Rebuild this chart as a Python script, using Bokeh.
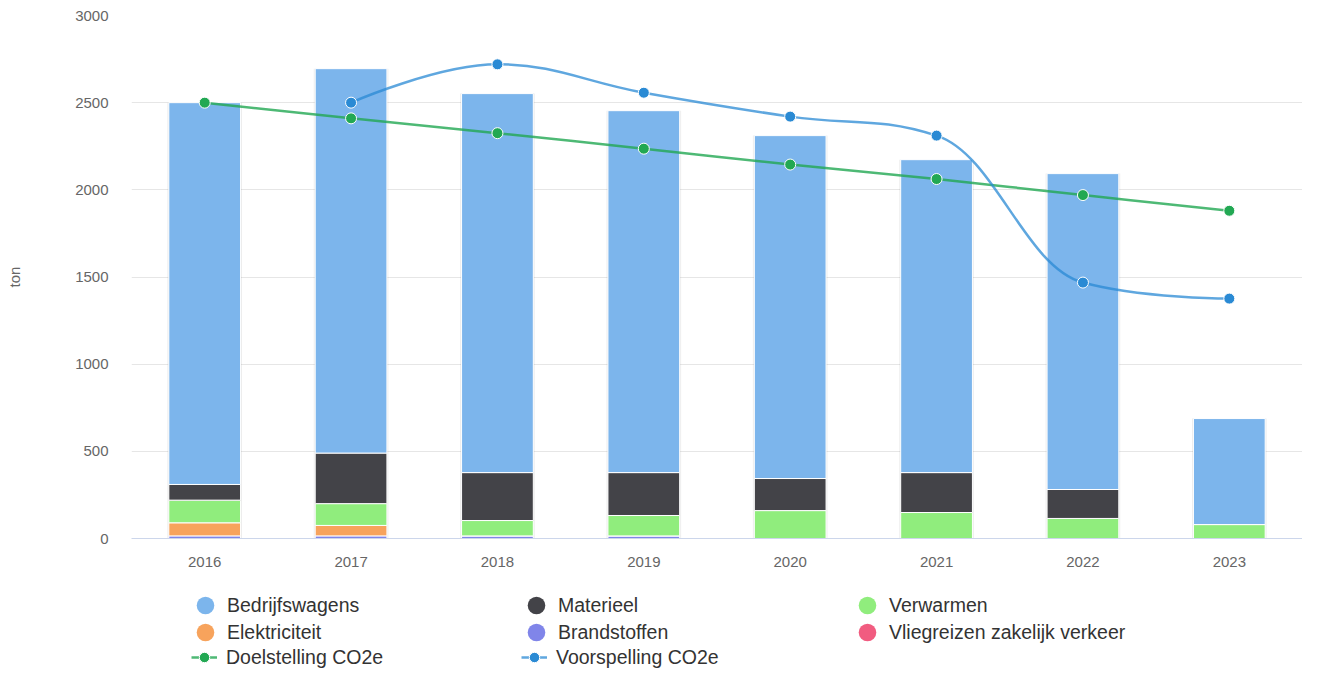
from bokeh.plotting import figure
from bokeh.layouts import column
from bokeh.models import ColumnDataSource, Range1d, FixedTicker, Legend, LegendItem
from bokeh.embed import file_html
from bokeh.resources import INLINE

# ---------------- data ----------------
years = ["2016", "2017", "2018", "2019", "2020", "2021", "2022", "2023"]
bedrijfswagens = [2190, 2205, 2174, 2076, 1967, 1795, 1812, 608]
materieel = [90, 290, 275, 246, 184, 229, 166, 0]
verwarmen = [130, 125, 88, 117, 160, 149, 115, 80]
elektriciteit = [75, 60, 0, 0, 0, 0, 0, 0]
brandstoffen = [15, 15, 15, 15, 0, 0, 0, 0]
vliegreizen = [0, 0, 0, 0, 0, 0, 0, 0]
doelstelling = [2500, 2410, 2325, 2236, 2145, 2062, 1970, 1880]
voorspelling = [None, 2500, 2720, 2557, 2420, 2311, 1468, 1376]

series_names = ["Bedrijfswagens", "Materieel", "Verwarmen", "Elektriciteit",
                "Brandstoffen", "Vliegreizen zakelijk verkeer"]
series_colors = ["#7cb5ec", "#434348", "#90ed7d", "#f7a35c", "#8085e9", "#f15c80"]
line_names = ["Doelstelling CO2e", "Voorspelling CO2e"]
doel_color = "#22a853"
voor_color = "#2a8ad4"

FONT = "Liberation Sans"
NAN = float("nan")

# ---------------- helpers ----------------
def spline_segments(xs, ys):
    """Highcharts-style spline: cubic bezier control points per segment."""
    n = len(xs)
    sm = 1.5
    den = sm + 1
    rc = [None] * n
    lc = [None] * n
    for i in range(1, n - 1):
        px, py = xs[i], ys[i]
        lx, ly = xs[i - 1], ys[i - 1]
        nx, ny = xs[i + 1], ys[i + 1]
        lcx = (sm * px + lx) / den
        lcy = (sm * py + ly) / den
        rcx = (sm * px + nx) / den
        rcy = (sm * py + ny) / den
        corr = 0
        if rcx != lcx:
            corr = (rcy - lcy) * (rcx - px) / (rcx - lcx) + py - rcy
        lcy += corr
        rcy += corr
        if lcy > ly and lcy > py:
            lcy = max(ly, py)
            rcy = 2 * py - lcy
        elif lcy < ly and lcy < py:
            lcy = min(ly, py)
            rcy = 2 * py - lcy
        if rcy > ny and rcy > py:
            rcy = max(ny, py)
            lcy = 2 * py - rcy
        elif rcy < ny and rcy < py:
            rcy = min(ny, py)
            lcy = 2 * py - rcy
        lc[i] = (lcx, lcy)
        rc[i] = (rcx, rcy)
    seg = dict(x0=[], y0=[], x1=[], y1=[], cx0=[], cy0=[], cx1=[], cy1=[])
    for i in range(1, n):
        c0 = rc[i - 1] if rc[i - 1] is not None else (xs[i - 1], ys[i - 1])
        c1 = lc[i] if lc[i] is not None else (xs[i], ys[i])
        seg["x0"].append(xs[i - 1]); seg["y0"].append(ys[i - 1])
        seg["x1"].append(xs[i]); seg["y1"].append(ys[i])
        seg["cx0"].append(c0[0]); seg["cy0"].append(c0[1])
        seg["cx1"].append(c1[0]); seg["cy1"].append(c1[1])
    return seg

# ---------------- main chart ----------------
idx = list(range(len(years)))
totals = [a + b + c + d + e + f for a, b, c, d, e, f in
          zip(bedrijfswagens, materieel, verwarmen, elektriciteit, brandstoffen, vliegreizen)]

src = ColumnDataSource(dict(
    x=idx, total=totals,
    bedrijfswagens=bedrijfswagens, materieel=materieel, verwarmen=verwarmen,
    elektriciteit=elektriciteit, brandstoffen=brandstoffen, vliegreizen=vliegreizen,
))

p = figure(width=1302, height=585,
           x_range=Range1d(-0.5, len(years) - 0.5), y_range=Range1d(0, 3000),
           output_backend="svg", toolbar_location=None,
           min_border_left=131, min_border_right=0, min_border_top=15, min_border_bottom=47)
p.outline_line_color = None
p.background_fill_color = "white"

# shadow behind stacks
p.vbar(x="x", top="total", width=0.51, source=src, fill_color="#000000",
       fill_alpha=0.07, line_color=None)

stack_keys = ["vliegreizen", "brandstoffen", "elektriciteit", "verwarmen", "materieel", "bedrijfswagens"]
stack_colors = [series_colors[5], series_colors[4], series_colors[3],
                series_colors[2], series_colors[1], series_colors[0]]
p.vbar_stack(stack_keys, x="x", width=0.49, color=stack_colors, source=src,
             line_color="white", line_width=1)

LINE_STYLE = dict(line_width=2.5)
d_seg = spline_segments(idx, doelstelling)
p.bezier(source=ColumnDataSource(d_seg), x0="x0", y0="y0", x1="x1", y1="y1",
         cx0="cx0", cy0="cy0", cx1="cx1", cy1="cy1",
         line_color=doel_color, line_alpha=0.8, **LINE_STYLE)
p.scatter(idx, doelstelling, size=11, marker="circle", fill_color=doel_color,
          line_color="white", line_width=1)

v_x = [i for i, v in zip(idx, voorspelling) if v is not None]
v_y = [v for v in voorspelling if v is not None]
v_seg = spline_segments(v_x, v_y)
p.bezier(source=ColumnDataSource(v_seg), x0="x0", y0="y0", x1="x1", y1="y1",
         cx0="cx0", cy0="cy0", cx1="cx1", cy1="cy1",
         line_color=voor_color, line_alpha=0.75, **LINE_STYLE)
p.scatter(v_x, v_y, size=11, marker="circle", fill_color=voor_color,
          line_color="white", line_width=1)

# axes
p.xaxis.ticker = FixedTicker(ticks=idx)
p.xaxis.major_label_overrides = {i: y for i, y in zip(idx, years)}
p.xaxis.axis_line_color = "#ccd6eb"
p.xaxis.major_tick_line_color = None
p.xaxis.minor_tick_line_color = None
p.xaxis.major_tick_out = 0
p.xaxis.major_tick_in = 0
p.xaxis.major_label_standoff = 18
p.xaxis.major_label_text_font = FONT
p.xaxis.major_label_text_font_size = "15px"
p.xaxis.major_label_text_color = "#666666"

p.yaxis.ticker = FixedTicker(ticks=[0, 500, 1000, 1500, 2000, 2500, 3000])
p.yaxis.axis_line_color = None
p.yaxis.major_tick_line_color = None
p.yaxis.minor_tick_line_color = None
p.yaxis.major_tick_out = 0
p.yaxis.major_tick_in = 0
p.yaxis.major_label_standoff = 23
p.yaxis.major_label_text_font = FONT
p.yaxis.major_label_text_font_size = "15px"
p.yaxis.major_label_text_color = "#666666"
p.yaxis.axis_label = "ton"
p.yaxis.axis_label_text_font = FONT
p.yaxis.axis_label_text_font_size = "15px"
p.yaxis.axis_label_text_font_style = "normal"
p.yaxis.axis_label_text_color = "#666666"
p.yaxis.axis_label_standoff = 49

p.xgrid.grid_line_color = None
p.ygrid.grid_line_color = "#e6e6e6"
p.ygrid.grid_line_width = 1

# ---------------- legend panel ----------------
lg = figure(width=1302, height=83, x_range=Range1d(0, 1), y_range=Range1d(0, 1),
            output_backend="svg", toolbar_location=None,
            x_axis_location=None, y_axis_location=None,
            min_border_left=0, min_border_right=0, min_border_top=0, min_border_bottom=0)
lg.outline_line_color = None
lg.xgrid.visible = False
lg.ygrid.visible = False

# placeholder renderers (single NaN point, nothing drawn) that only supply legend swatches
swatches = [lg.scatter(x=[NAN], y=[NAN], marker="circle", fill_color=c, line_color=None)
            for c in series_colors]
d_leg = [lg.line(x=[NAN, NAN], y=[NAN, NAN], line_color=doel_color, line_alpha=0.8, **LINE_STYLE),
         lg.scatter(x=[NAN], y=[NAN], marker="circle", fill_color=doel_color,
                    line_color="white", line_width=1)]
v_leg = [lg.line(x=[NAN, NAN], y=[NAN, NAN], line_color=voor_color, line_alpha=0.75, **LINE_STYLE),
         lg.scatter(x=[NAN], y=[NAN], marker="circle", fill_color=voor_color,
                    line_color="white", line_width=1)]

def make_legend(items, gw, standoff, lw, loc):
    return Legend(items=items, orientation="horizontal", location=loc,
                  glyph_width=gw, glyph_height=gw, label_standoff=standoff, label_width=lw,
                  spacing=0, padding=0, margin=0, border_line_color=None,
                  background_fill_alpha=0, label_text_font=FONT,
                  label_text_font_size="19.5px", label_text_color="#333333")

row1 = [LegendItem(label=series_names[i], renderers=[swatches[i]]) for i in range(0, 3)]
row2 = [LegendItem(label=series_names[i], renderers=[swatches[i]]) for i in range(3, 6)]
row3 = [LegendItem(label=line_names[0], renderers=d_leg),
        LegendItem(label=line_names[1], renderers=v_leg)]

# frames of the column children are aligned (legend frame starts at x=131)
lg.add_layout(make_legend(row1, 44, -1, 287, (52, 41)), "center")
lg.add_layout(make_legend(row2, 44, -1, 287, (52, 14)), "center")
lg.add_layout(make_legend(row3, 26, 9, 295, (60, -2)), "center")

layout = column(p, lg, spacing=0)
open("out.html", "w").write(file_html(layout, INLINE))
